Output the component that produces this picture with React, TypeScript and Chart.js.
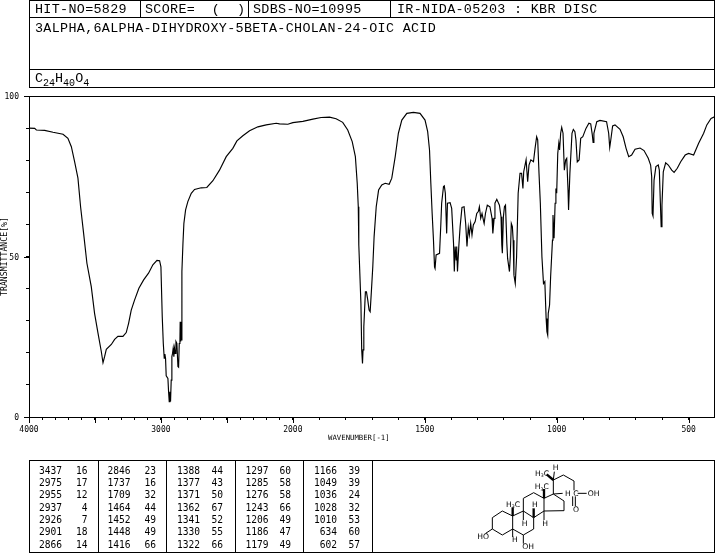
import React, { useEffect, useRef } from "react";
import { Chart, LinearScale, registerables } from "chart.js";

const wavenumbers = [
  4000, 3957, 3944, 3881, 3818, 3742, 3705, 3679, 3654, 3629, 3609, 3586, 3561, 3528, 3503, 3477, 3452, 3439, 3427, 3414,
  3376, 3351, 3326, 3288, 3263, 3245, 3225, 3200, 3167, 3131, 3094, 3061, 3030, 3010, 3000, 2990, 2982, 2975, 2970, 2965,
  2960, 2947, 2942, 2937, 2932, 2927, 2922, 2917, 2912, 2907, 2902, 2897, 2892, 2886, 2879, 2871, 2866, 2861, 2856, 2854,
  2851, 2849, 2846, 2841, 2833, 2826, 2813, 2796, 2770, 2745, 2695, 2652, 2606, 2556, 2505, 2455, 2424, 2379, 2328, 2265,
  2202, 2126, 2101, 2038, 2000, 1962, 1924, 1893, 1861, 1836, 1811, 1792, 1775, 1763, 1756, 1752, 1750, 1742, 1739, 1736,
  1734, 1731, 1727, 1725, 1721, 1716, 1711, 1707, 1702, 1697, 1692, 1684, 1675, 1663, 1650, 1635, 1625, 1612, 1600, 1587,
  1568, 1543, 1518, 1499, 1489, 1482, 1477, 1472, 1467, 1463, 1461, 1457, 1444, 1439, 1436, 1429, 1426, 1422, 1417, 1414,
  1404, 1398, 1391, 1388, 1385, 1381, 1379, 1376, 1371, 1366, 1359, 1351, 1345, 1340, 1335, 1331, 1326, 1321, 1316, 1309,
  1303, 1297, 1293, 1288, 1283, 1278, 1275, 1270, 1263, 1253, 1245, 1242, 1237, 1234, 1227, 1217, 1211, 1208, 1206, 1202,
  1198, 1194, 1189, 1186, 1179, 1176, 1172, 1168, 1165, 1162, 1157, 1152, 1146, 1139, 1133, 1128, 1125, 1116, 1110, 1105,
  1098, 1088, 1082, 1076, 1072, 1067, 1062, 1056, 1050, 1045, 1040, 1037, 1034, 1032, 1027, 1023, 1016, 1014, 1010, 1006,
  1003, 1000, 996, 992, 989, 985, 981, 976, 971, 966, 962, 957, 955, 950, 942, 937, 931, 927, 922, 915,
  909, 901, 889, 878, 871, 865, 862, 859, 848, 836, 811, 803, 799, 795, 788, 779, 760, 748, 737, 727,
  716, 703, 684, 669, 653, 644, 640, 638, 635, 631, 624, 615, 611, 607, 604, 601, 596, 587, 577, 564,
  555, 543, 530, 513, 500, 481, 462, 443, 431, 415, 400,
];

const transmittance = [
  90.0, 89.9, 89.4, 89.3, 88.7, 88.1, 86.8, 84.2, 79.5, 74.4, 65.5, 57.2, 47.9, 40.6, 32.3, 26.1, 20.4, 16.9, 18.8, 21.1,
  22.6, 24.2, 25.1, 25.1, 26.3, 29.2, 33.3, 36.4, 40.1, 42.7, 44.8, 47.4, 48.8, 48.7, 46.8, 31.3, 22.9, 18.3, 19.6, 18.3,
  12.8, 12.0, 7.9, 4.8, 7.9, 4.8, 11.5, 18.8, 19.8, 21.4, 18.8, 21.4, 19.8, 23.5, 22.9, 15.7, 15.5, 22.9, 23.5, 29.7,
  23.5, 29.7, 24.0, 45.3, 54.1, 60.3, 64.5, 67.1, 69.7, 70.9, 71.4, 71.5, 73.6, 76.9, 81.1, 83.7, 86.0, 87.6, 89.2, 90.4,
  91.0, 91.5, 91.3, 91.2, 91.7, 92.1, 92.8, 93.3, 93.4, 92.9, 91.8, 89.4, 85.8, 81.1, 72.8, 65.5, 53.6, 35.4, 20.9, 16.7,
  20.9, 28.1, 35.4, 39.0, 39.0, 36.4, 33.3, 32.8, 39.6, 46.8, 56.2, 65.5, 70.7, 72.3, 72.8, 72.5, 74.4, 81.1, 88.4, 92.5,
  94.6, 94.9, 94.6, 92.5, 88.9, 83.2, 72.8, 63.4, 55.1, 46.8, 46.3, 50.5, 51.0, 60.3, 66.6, 71.8, 72.0, 69.7, 57.2, 66.6,
  66.8, 65.0, 54.1, 45.3, 53.1, 48.9, 53.1, 45.3, 53.1, 59.3, 65.3, 65.5, 60.3, 53.1, 59.1, 56.7, 60.3, 56.7, 59.8, 60.9,
  63.4, 64.0, 65.5, 61.9, 63.4, 61.4, 60.3, 63.4, 66.0, 65.5, 61.9, 57.2, 61.9, 66.6, 67.8, 66.0, 62.4, 53.6, 51.0, 62.4,
  65.5, 66.0, 54.1, 49.4, 45.3, 49.9, 60.3, 59.3, 55.1, 44.2, 41.6, 49.9, 69.7, 75.9, 75.9, 71.2, 76.4, 80.1, 73.3, 78.5,
  80.1, 79.5, 83.7, 87.3, 86.3, 75.9, 66.6, 49.9, 41.6, 42.2, 30.7, 26.6, 25.5, 32.3, 34.9, 43.7, 55.1, 62.9, 55.7, 66.6,
  71.2, 69.7, 82.1, 85.3, 83.2, 88.4, 90.2, 88.4, 76.9, 80.1, 80.6, 70.7, 64.5, 75.9, 88.4, 89.6, 88.9, 86.3, 79.5, 80.1,
  86.8, 87.3, 89.9, 91.5, 91.3, 87.9, 85.5, 88.4, 92.0, 92.4, 92.0, 88.4, 84.0, 86.3, 90.7, 91.0, 89.6, 87.3, 83.7, 81.1,
  81.6, 83.4, 83.8, 83.0, 80.6, 78.5, 74.9, 63.4, 62.6, 73.8, 78.0, 78.5, 76.9, 66.6, 59.3, 66.0, 76.4, 79.2, 78.5, 76.9,
  76.2, 77.5, 79.5, 81.6, 82.1, 81.6, 85.3, 88.4, 91.0, 93.0, 93.6,
];

const xTickValues = [
  4000, 3900, 3800, 3700, 3600, 3500, 3400, 3300, 3200, 3100, 3000, 2900, 2800, 2700, 2600, 2500, 2400, 2300, 2200, 2100,
  2000, 1900, 1800, 1700, 1600, 1500, 1400, 1300, 1200, 1100, 1000, 900, 800, 700, 600, 500, 400,
];
const xMajorTicks = [4000, 3500, 3000, 2500, 2000, 1500, 1000, 500];
const xLabelled = [4000, 3000, 2000, 1500, 1000, 500];
const yMajorTicks = [0, 50, 100];

const peakColumns: [number, number][][] = [
  [[3437, 16], [2975, 17], [2955, 12], [2937, 4], [2926, 7], [2901, 18], [2866, 14]],
  [[2846, 23], [1737, 16], [1709, 32], [1464, 44], [1452, 49], [1448, 49], [1416, 66]],
  [[1388, 44], [1377, 43], [1371, 50], [1362, 67], [1341, 52], [1330, 55], [1322, 66]],
  [[1297, 60], [1285, 58], [1276, 58], [1243, 66], [1206, 49], [1186, 47], [1179, 49]],
  [[1166, 39], [1049, 39], [1036, 24], [1028, 32], [1010, 53], [634, 60], [602, 57]],
];

const hitText = "HIT-NO=5829";
const scoreText = "SCORE=  (  )";
const sdbsText = "SDBS-NO=10995";
const irText = "IR-NIDA-05203 : KBR DISC";
const nameText = "3ALPHA,6ALPHA-DIHYDROXY-5BETA-CHOLAN-24-OIC ACID";

class WavenumberScale extends LinearScale {
  static id = "wavenumber";
  static defaults = LinearScale.defaults;
  buildTicks() {
    return xTickValues.map((value) => ({ value }));
  }
  getPixelForValue(v: number) {
    const units = v >= 2000 ? 4000 - v : 2000 + (2000 - v) * 2;
    return (this as any).left + (units / 5200) * (this as any).width;
  }
  getValueForPixel(p: number) {
    const units = ((p - (this as any).left) / (this as any).width) * 5200;
    return units <= 2000 ? 4000 - units : 2000 - (units - 2000) / 2;
  }
}

Chart.register(...registerables, WavenumberScale as any);

const frame = {
  id: "frame",
  afterDatasetsDraw(chart: any) {
    const { ctx, chartArea: a, scales } = chart;
    ctx.save();
    ctx.strokeStyle = "#000";
    ctx.lineWidth = 1;
    ctx.strokeRect(Math.round(a.left) + 0.5, Math.round(a.top) + 0.5, Math.round(a.right - a.left) - 1, Math.round(a.bottom - a.top));
    ctx.beginPath();
    xMajorTicks.forEach((v) => {
      const x = Math.round(scales.x.getPixelForValue(v)) + 0.5;
      ctx.moveTo(x, a.bottom);
      ctx.lineTo(x, a.bottom + 6);
    });
    yMajorTicks.forEach((v) => {
      const y = Math.round(scales.y.getPixelForValue(v)) + 0.5;
      ctx.moveTo(a.left, y);
      ctx.lineTo(a.left - 5, y);
    });
    ctx.stroke();
    ctx.restore();
  },
};

const ink = "#000";
const mono = '"Liberation Mono", monospace';
const dejaMono = '"DejaVu Sans Mono", monospace';

const box = (l: number, t: number, w: number, h: number) => (
  <div style={{ position: "absolute", left: l, top: t, width: w, height: h, boxSizing: "border-box", border: `1px solid ${ink}` }} />
);
const rule = (l: number, t: number, w: number, h: number) => (
  <div style={{ position: "absolute", left: l, top: t, width: w, height: h, background: ink }} />
);
const headText = (s: string, l: number, t: number) => (
  <div style={{ position: "absolute", left: l, top: t, font: `13.4px ${mono}`, lineHeight: "12px", letterSpacing: 0.32, whiteSpace: "pre", color: ink }}>{s}</div>
);

const rowTops = [466, 478, 490, 503, 515, 527, 540];
const colNumberRight = [62, 130.5, 200, 268.5, 337];
const colValueRight = [87.5, 156, 223, 291, 360];

const bonds: number[][] = [
  [217, 188, 247, 168], [247, 168, 278, 183], [278, 183, 278, 222], [278, 222, 247, 240], [247, 240, 217, 222], [217, 222, 217, 188],
  [217, 222, 197, 235], [278, 183, 310, 168], [310, 168, 341, 188], [341, 188, 341, 222], [341, 222, 310, 240], [310, 240, 278, 222],
  [310, 240, 310, 266], [278, 222, 278, 246], [310, 168, 310, 130], [310, 130, 341, 113], [341, 113, 372, 130], [372, 130, 372, 168],
  [372, 168, 341, 188], [310, 168, 310, 195], [372, 168, 372, 195], [372, 130, 400, 117], [400, 117, 432, 138], [432, 138, 432, 167],
  [432, 167, 372, 168], [400, 117, 428, 115], [400, 117, 400, 75], [400, 75, 403, 50], [400, 75, 430, 60], [430, 60, 462, 78],
  [462, 78, 462, 106], [473, 115, 500, 115], [458, 124, 458, 153], [466, 124, 466, 153],
];
const wedges: number[][] = [
  [278, 183, 278, 157], [341, 188, 341, 160], [372, 130, 372, 102], [400, 75, 380, 58],
];
const atoms: [string, number, number][] = [
  ["HO", 172, 251], ["OH", 307, 283], ["H", 276, 262], ["H", 305, 213], ["H", 367, 213], ["H", 336, 155],
  ["H", 435, 122], ["H", 398, 46], ["C", 460, 122], ["OH", 503, 122], ["O", 459, 172],
];
const methyls: [number, number][] = [[258, 155], [344, 102], [345, 62]];

export default function App() {
  const canvasRef = useRef<HTMLCanvasElement>(null);
  useEffect(() => {
    const points = wavenumbers.map((x, i) => ({ x, y: transmittance[i] }));
    const chart = new Chart(canvasRef.current as HTMLCanvasElement, {
      type: "line",
      data: {
        datasets: [
          {
            data: points,
            borderColor: "#000",
            borderWidth: 1.15,
            pointRadius: 0,
            tension: 0,
            fill: false,
          },
        ],
      },
      options: {
        animation: false,
        responsive: false,
        devicePixelRatio: 1,
        layout: { padding: { top: 96, right: 0, left: 0, bottom: 0 } },
        plugins: { legend: { display: false }, tooltip: { enabled: false } },
        scales: {
          x: {
            type: "wavenumber",
            min: 400,
            max: 4000,
            afterFit: (s: any) => {
              s.height = 136;
              s.paddingLeft = 0;
              s.paddingRight = 0;
            },
            grid: { drawOnChartArea: false, tickLength: 3, tickColor: "#000" },
            border: { color: "#000" },
            ticks: {
              autoSkip: false,
              maxRotation: 0,
              minRotation: 0,
              padding: 5,
              color: "#000",
              font: { family: "DejaVu Sans Mono", size: 8 },
              callback: (v: any) => (xLabelled.includes(Number(v)) ? String(v) : ""),
            },
            title: {
              display: true,
              text: "WAVENUMBER[-1]      ",
              color: "#000",
              font: { family: "DejaVu Sans Mono", size: 7.3 },
              padding: { top: 0, bottom: 111 },
            },
          } as any,
          y: {
            type: "linear",
            min: 0,
            max: 100,
            afterFit: (s: any) => {
              s.width = 29;
              s.paddingTop = 0;
              s.paddingBottom = 0;
            },
            grid: { drawOnChartArea: false, tickLength: 3, tickColor: "#000" },
            border: { color: "#000" },
            ticks: {
              stepSize: 10,
              autoSkip: false,
              padding: 7,
              labelOffset: 1,
              color: "#000",
              font: { family: "DejaVu Sans Mono", size: 8 },
              callback: (v: any) => (yMajorTicks.includes(Number(v)) ? String(v) : ""),
            },
            title: {
              display: true,
              text: "TRANSMITTANCE[%]",
              color: "#000",
              font: { family: "DejaVu Sans Mono", size: 8.2 },
              padding: { top: 0, bottom: 0 },
            },
          },
        },
      },
      plugins: [frame],
    });
    return () => chart.destroy();
  }, []);

  return (
    <div style={{ position: "absolute", left: 0, top: 0, width: 715, height: 553, background: "#fff", overflow: "hidden" }}>
      <canvas ref={canvasRef} width={715} height={553} style={{ position: "absolute", left: 0, top: 0, display: "block" }} />
      {box(29, 0, 686, 88)}
      {rule(29, 17, 686, 1)}
      {rule(29, 69, 686, 1)}
      {rule(140, 0, 1, 18)}
      {rule(248, 0, 1, 18)}
      {rule(390, 0, 1, 18)}
      {headText(hitText, 35, 4)}
      {headText(scoreText, 145, 4)}
      {headText(sdbsText, 253, 4)}
      {headText(irText, 397, 4)}
      {headText(nameText, 35, 23)}
      <div style={{ position: "absolute", left: 35, top: 73, font: `13.4px ${mono}`, lineHeight: "12px", color: ink, whiteSpace: "pre" }}>
        C<sub style={{ fontSize: 10, lineHeight: 0 }}>24</sub>H<sub style={{ fontSize: 10, lineHeight: 0 }}>40</sub>O<sub style={{ fontSize: 10, lineHeight: 0 }}>4</sub>
      </div>

      {box(29, 460, 686, 93)}
      {[98, 166, 235, 303, 372].map((x) => (
        <React.Fragment key={x}>{rule(x, 460, 1, 93)}</React.Fragment>
      ))}
      {peakColumns.map((col, c) =>
        col.map(([w, t], r) => (
          <React.Fragment key={`${c}-${r}`}>
            <div style={{ position: "absolute", left: colNumberRight[c] - 40, width: 40, top: rowTops[r], textAlign: "right", font: `9.6px ${dejaMono}`, lineHeight: "10px", color: ink }}>{w}</div>
            <div style={{ position: "absolute", left: colValueRight[c] - 20, width: 20, top: rowTops[r], textAlign: "right", font: `9.6px ${dejaMono}`, lineHeight: "10px", color: ink }}>{t}</div>
          </React.Fragment>
        ))
      )}

      <svg style={{ position: "absolute", left: 420, top: 455 }} width={190} height={98} viewBox="0 0 570 294">
        {bonds.map((b, i) => (
          <line key={i} x1={b[0]} y1={b[1]} x2={b[2]} y2={b[3]} stroke={ink} strokeWidth={3} />
        ))}
        {wedges.map((b, i) => (
          <line key={i} x1={b[0]} y1={b[1]} x2={b[2]} y2={b[3]} stroke={ink} strokeWidth={7} />
        ))}
        {atoms.map(([s, x, y], i) => (
          <text key={i} x={x} y={y} fontFamily="DejaVu Sans" fontSize={23} fill={ink}>{s}</text>
        ))}
        {methyls.map(([x, y], i) => (
          <text key={i} x={x} y={y} fontFamily="DejaVu Sans" fontSize={23} fill={ink}>
            H<tspan fontSize={14} dy={5}>3</tspan><tspan dy={-5}>C</tspan>
          </text>
        ))}
      </svg>
    </div>
  );
}
